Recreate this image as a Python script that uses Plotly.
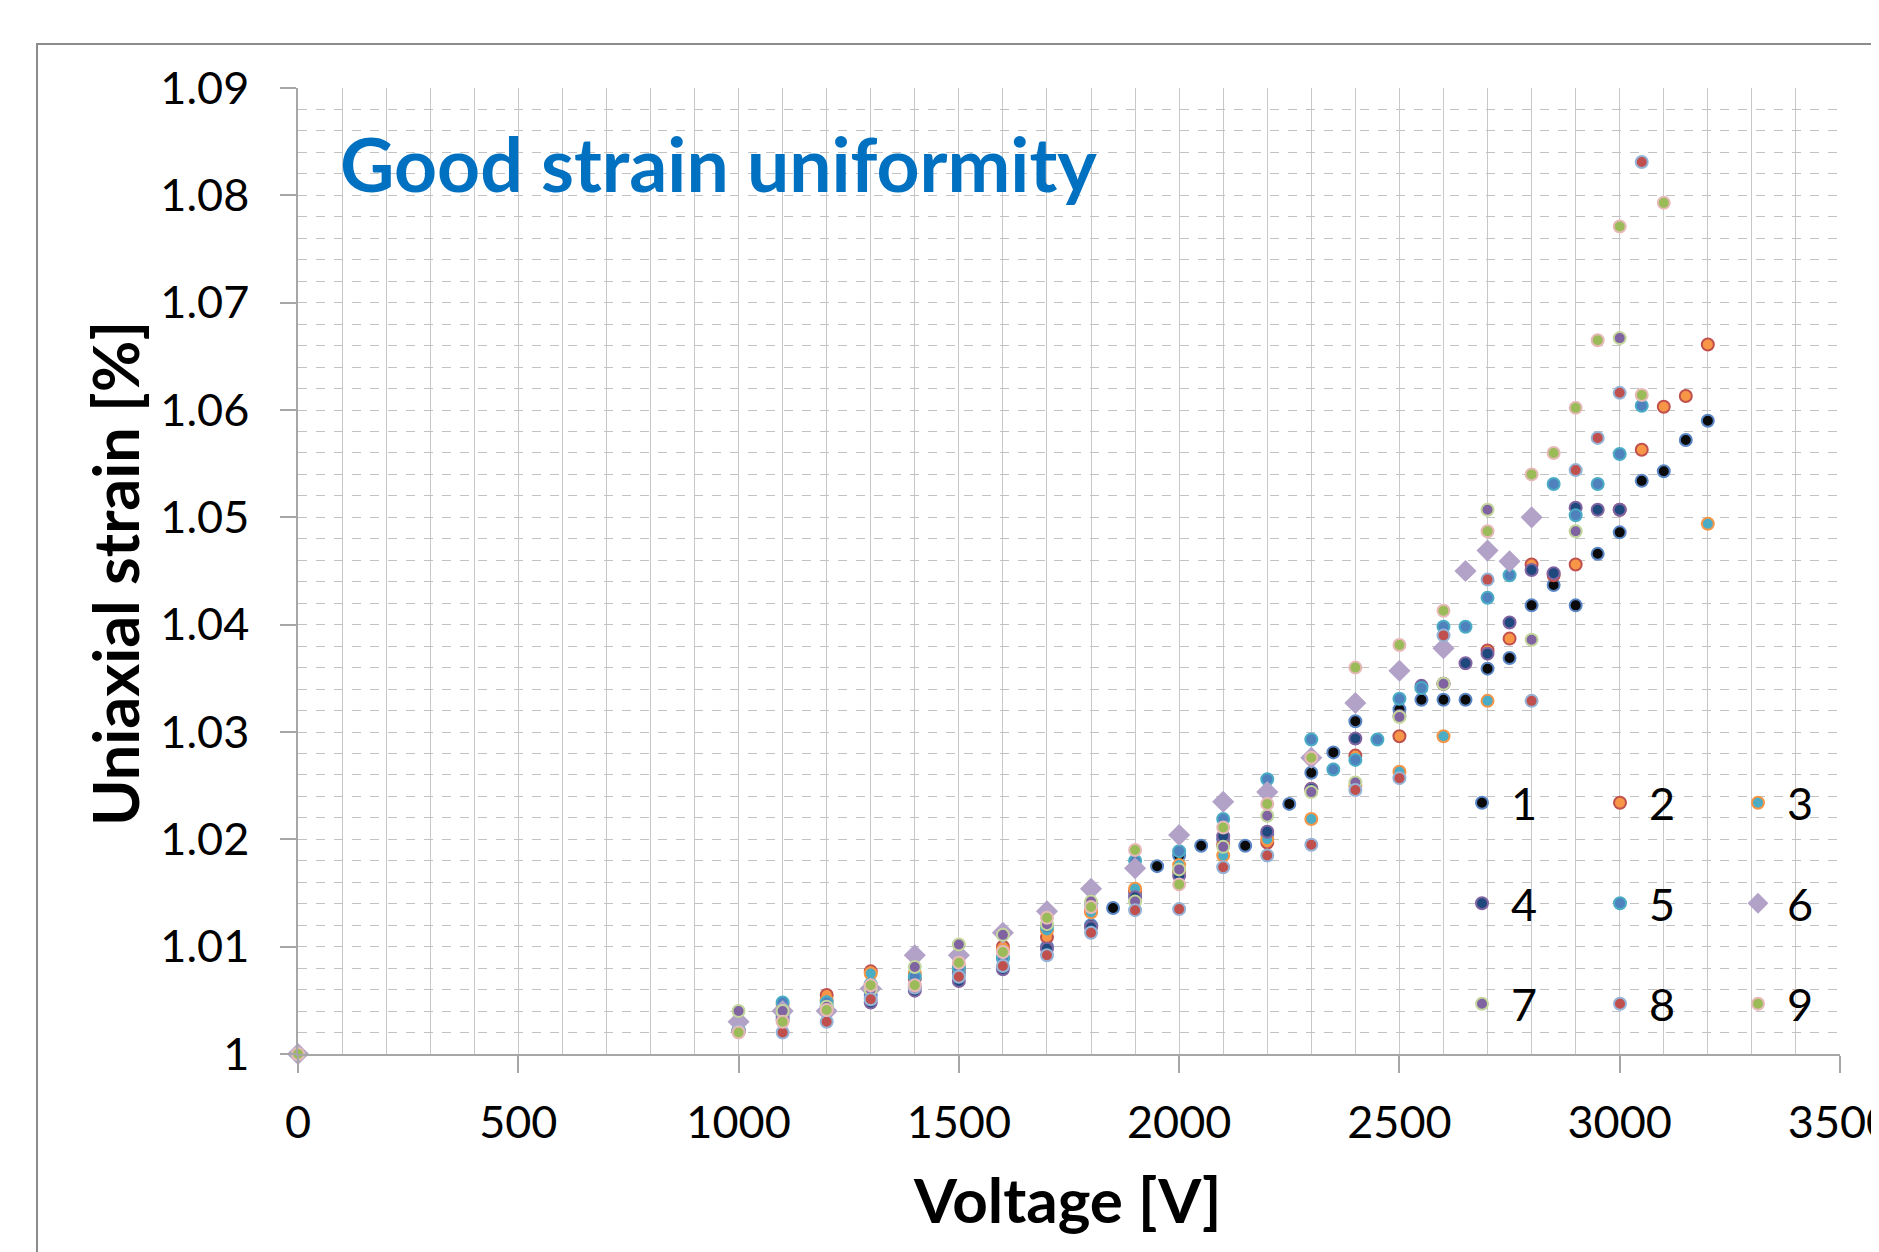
import plotly.graph_objects as go

# ---------------- data ----------------
series_names = ["1", "2", "3", "4", "5", "6", "7", "8", "9"]

v1 = [0, 1000, 1100, 1200, 1300, 1400, 1500, 1600, 1700, 1800, 1850, 1900, 1950, 2000, 2050, 2100, 2150, 2200, 2250, 2300, 2350, 2400, 2500, 2550, 2600, 2650, 2700, 2750, 2800, 2850, 2900, 2950, 3000, 3050, 3100, 3150, 3200]
s1 = [1.0, 1.0022, 1.0035, 1.0045, 1.0055, 1.0062, 1.0075, 1.0089, 1.0100, 1.0120, 1.0136, 1.0150, 1.0175, 1.0185, 1.0194, 1.0200, 1.0194, 1.0205, 1.0233, 1.0262, 1.0281, 1.0310, 1.0321, 1.0330, 1.0330, 1.0330, 1.0359, 1.0369, 1.0418, 1.0437, 1.0418, 1.0466, 1.0486, 1.0534, 1.0543, 1.0572, 1.0590]

v2 = [0, 1000, 1100, 1200, 1300, 1400, 1500, 1600, 1700, 1800, 1900, 2000, 2100, 2200, 2300, 2400, 2500, 2600, 2700, 2750, 2800, 2850, 2900, 3000, 3050, 3100, 3150, 3200]
s2 = [1.0, 1.0021, 1.0040, 1.0055, 1.0077, 1.0070, 1.0079, 1.0100, 1.0109, 1.0133, 1.0152, 1.0170, 1.0195, 1.0197, 1.0247, 1.0278, 1.0296, 1.0345, 1.0376, 1.0387, 1.0456, 1.0446, 1.0456, 1.0507, 1.0563, 1.0603, 1.0613, 1.0661]

v3 = [0, 1000, 1100, 1200, 1300, 1400, 1500, 1600, 1700, 1800, 1900, 2000, 2100, 2200, 2300, 2400, 2500, 2600, 2700, 3200]
s3 = [1.0, 1.0022, 1.0046, 1.0050, 1.0075, 1.0075, 1.0082, 1.0097, 1.0115, 1.0132, 1.0154, 1.0176, 1.0185, 1.0200, 1.0219, 1.0250, 1.0263, 1.0296, 1.0329, 1.0494]

v4 = [0, 1000, 1100, 1200, 1300, 1400, 1500, 1600, 1700, 1800, 1900, 2000, 2100, 2200, 2300, 2400, 2500, 2550, 2600, 2650, 2700, 2750, 2800, 2850, 2900, 2950, 3000]
s4 = [1.0, 1.0021, 1.0032, 1.0042, 1.0048, 1.0059, 1.0068, 1.0079, 1.0098, 1.0118, 1.0146, 1.0166, 1.0203, 1.0207, 1.0247, 1.0294, 1.0315, 1.0343, 1.0345, 1.0364, 1.0373, 1.0402, 1.0451, 1.0448, 1.0509, 1.0507, 1.0507]

v5 = [0, 1000, 1100, 1200, 1300, 1400, 1500, 1600, 1700, 1800, 1900, 2000, 2100, 2200, 2300, 2350, 2400, 2450, 2500, 2550, 2600, 2650, 2700, 2750, 2850, 2900, 2950, 3000, 3050]
s5 = [1.0, 1.0022, 1.0048, 1.0048, 1.0065, 1.0072, 1.0080, 1.0090, 1.0118, 1.0140, 1.0180, 1.0189, 1.0219, 1.0256, 1.0293, 1.0265, 1.0274, 1.0293, 1.0331, 1.0341, 1.0398, 1.0398, 1.0425, 1.0446, 1.0531, 1.0502, 1.0531, 1.0559, 1.0604]

v6 = [0, 1000, 1100, 1200, 1300, 1400, 1500, 1600, 1700, 1800, 1900, 2000, 2100, 2200, 2300, 2400, 2500, 2600, 2650, 2700, 2750, 2800]
s6 = [1.0, 1.0030, 1.0040, 1.0040, 1.0061, 1.0092, 1.0092, 1.0113, 1.0133, 1.0154, 1.0173, 1.0204, 1.0235, 1.0244, 1.0276, 1.0327, 1.0357, 1.0378, 1.0450, 1.0469, 1.0459, 1.0500]

v7 = [0, 1000, 1100, 1200, 1300, 1400, 1500, 1600, 1700, 1800, 1900, 2000, 2100, 2200, 2300, 2400, 2500, 2600, 2700, 2800, 2900, 3000]
s7 = [1.0, 1.0040, 1.0040, 1.0044, 1.0060, 1.0081, 1.0102, 1.0111, 1.0121, 1.0142, 1.0142, 1.0172, 1.0193, 1.0222, 1.0244, 1.0253, 1.0314, 1.0345, 1.0507, 1.0386, 1.0487, 1.0667]

v8 = [0, 1000, 1100, 1200, 1300, 1400, 1500, 1600, 1700, 1800, 1900, 2000, 2100, 2200, 2300, 2400, 2500, 2600, 2700, 2800, 2900, 2950, 3000, 3050]
s8 = [1.0, 1.0021, 1.0020, 1.0030, 1.0051, 1.0062, 1.0072, 1.0082, 1.0092, 1.0113, 1.0134, 1.0135, 1.0174, 1.0185, 1.0195, 1.0246, 1.0257, 1.0390, 1.0442, 1.0329, 1.0544, 1.0574, 1.0616, 1.0831]

v9 = [0, 1000, 1100, 1200, 1300, 1400, 1500, 1600, 1700, 1800, 1900, 2000, 2100, 2200, 2300, 2400, 2500, 2600, 2700, 2800, 2850, 2900, 2950, 3000, 3050, 3100]
s9 = [1.0, 1.0020, 1.0030, 1.0041, 1.0064, 1.0064, 1.0085, 1.0095, 1.0127, 1.0137, 1.0190, 1.0158, 1.0211, 1.0233, 1.0276, 1.0360, 1.0381, 1.0413, 1.0487, 1.0540, 1.0560, 1.0602, 1.0665, 1.0771, 1.0614, 1.0793]

x_tick_vals = [0, 500, 1000, 1500, 2000, 2500, 3000, 3500]
x_tick_text = ["0", "500", "1000", "1500", "2000", "2500", "3000", "3500"]
y_tick_vals = [1.00, 1.01, 1.02, 1.03, 1.04, 1.05, 1.06, 1.07, 1.08, 1.09]
y_tick_text = ["1", "1.01", "1.02", "1.03", "1.04", "1.05", "1.06", "1.07", "1.08", "1.09"]

title_text = "Good strain uniformity"
x_title = "Voltage [V]"
y_title = "Uniaxial strain [%]"

# ---------------- styles ----------------
xs = [v1, v2, v3, v4, v5, v6, v7, v8, v9]
ys = [s1, s2, s3, s4, s5, s6, s7, s8, s9]
fills = ["#0a0a0a", "#F79646", "#4BACC6", "#1F497D", "#4F81BD", "#B3A2C7", "#8064A2", "#C0504D", "#9BBB59"]
borders = ["#5A86C5", "#C0504D", "#F79646", "#8064A2", "#4BACC6", "#B3A2C7", "#C3D69B", "#95B3D7", "#E6B9B8"]
symbols = ["circle"] * 5 + ["diamond"] + ["circle"] * 3
legend_ids = ["legend", "legend2", "legend3"] * 3

FONT = "Lato"
fig = go.Figure()
for i in range(9):
    diamond = symbols[i] == "diamond"
    fig.add_trace(go.Scatter(
        x=xs[i], y=ys[i], mode="markers", name=series_names[i],
        legend=legend_ids[i], legendgroup=series_names[i],
        cliponaxis=False,
        marker=dict(symbol=symbols[i], size=17 if diamond else 12, color=fills[i],
                    line=dict(color=borders[i], width=0 if diamond else 2)),
    ))

OFF = 8  # page body margin
W, H = 1879, 1252
L, R, T, B = 298 - OFF, 1840 - OFF, 88 - OFF, 1054 - OFF
fig.update_layout(
    width=W, height=H,
    margin=dict(l=L, r=W - R, t=T, b=H - B, autoexpand=False),
    paper_bgcolor="white", plot_bgcolor="white",
    font=dict(family=FONT, color="black", size=45),
    xaxis=dict(range=[0, 3500], tickvals=x_tick_vals, ticktext=x_tick_text,
               ticks="outside", ticklen=17, tickwidth=1.5, tickcolor="#A6A6A6",
               showline=True, linecolor="#A6A6A6", linewidth=1.5,
               showgrid=True, gridcolor="#C8C8C8", gridwidth=1.3,
               minor=dict(dtick=100, showgrid=True, gridcolor="#C8C8C8", gridwidth=1.3, ticks=""),
               tickfont=dict(size=45, family=FONT), ticklabelstandoff=11,
               ticklabeloverflow="allow", zeroline=False),
    yaxis=dict(range=[1.0, 1.09], tickvals=y_tick_vals, ticktext=y_tick_text,
               ticks="outside", ticklen=16, tickwidth=1.5, tickcolor="#A6A6A6",
               showline=True, linecolor="#A6A6A6", linewidth=1.5,
               showgrid=True, gridcolor="#C2C2C2", gridwidth=1.2, griddash="dash",
               minor=dict(dtick=0.002, tick0=1.0, showgrid=True, gridcolor="#C2C2C2", gridwidth=1.2, griddash="dash", ticks=""),
               tickfont=dict(size=45, family=FONT), ticklabelstandoff=22, zeroline=False),
    showlegend=True,
)

def px2x(p):
    return (p - OFF - L) / (R - L)
def py2y(p):
    return (B - (p - OFF)) / (B - T)

leg_common = dict(font=dict(size=45, family=FONT, color="black"), bgcolor="rgba(0,0,0,0)",
                  tracegroupgap=39, itemsizing="trace", itemwidth=48,
                  xanchor="left", yanchor="top", xref="paper", yref="paper")
fig.update_layout(
    legend=dict(x=px2x(1453), y=py2y(767), **leg_common),
    legend2=dict(x=px2x(1591), y=py2y(767), **leg_common),
    legend3=dict(x=px2x(1729), y=py2y(767), **leg_common),
)

# outer chart border
fig.add_shape(type="rect", xref="paper", yref="paper",
              x0=px2x(37), x1=px2x(1960), y0=py2y(1320), y1=py2y(44),
              line=dict(color="#8C8C8C", width=2), fillcolor="rgba(0,0,0,0)", layer="below")

fig.add_annotation(text="<b>" + title_text + "</b>", xref="paper", yref="paper",
                   x=px2x(338), y=py2y(163), xanchor="left", yanchor="middle",
                   showarrow=False, font=dict(size=75, family=FONT, color="#0070C0"))
fig.add_annotation(text="<b>" + x_title + "</b>", xref="paper", yref="paper",
                   x=px2x(1067), y=py2y(1199), xanchor="center", yanchor="middle",
                   showarrow=False, font=dict(size=62, family=FONT, color="black"))
fig.add_annotation(text="<b>" + y_title + "</b>", xref="paper", yref="paper",
                   x=px2x(114), y=py2y(574), xanchor="center", yanchor="middle", textangle=-90,
                   showarrow=False, font=dict(size=63, family=FONT, color="black"))

fig.write_html("out.html")
